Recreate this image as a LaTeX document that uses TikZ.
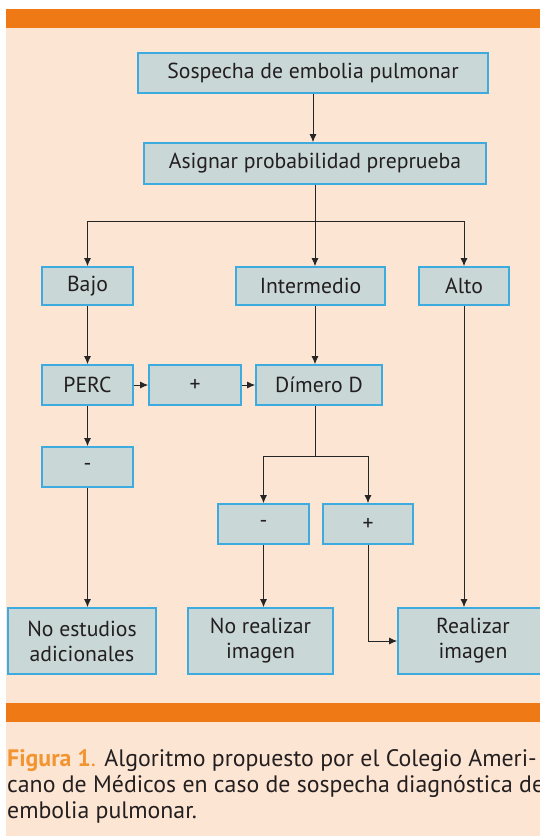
\documentclass[tikz,border=0pt]{standalone}
\usepackage{fontspec}
\setmainfont{PT Sans}
\usetikzlibrary{arrows.meta}
\definecolor{peach}{HTML}{FDE5D3}
\definecolor{barorange}{HTML}{EF7914}
\definecolor{boxfill}{HTML}{CAD7D7}
\definecolor{boxline}{HTML}{3DAAE0}
\definecolor{captxt}{HTML}{231F20}
\definecolor{figorange}{HTML}{F29430}
\begin{document}
\begin{tikzpicture}[x=1pt,y=-1pt,
  box/.style={draw=boxline, line width=1.6pt, fill=boxfill, inner sep=0pt,
    font=\fontsize{21.7}{25}\selectfont, text=captxt, align=center},
  conn/.style={line width=1pt, draw=black!85, -{Latex[length=8pt,width=7pt]}},
  plain/.style={line width=1pt, draw=black!85},
  captext/.style={anchor=base west, inner sep=0pt, text=captxt, font=\fontsize{23.8}{26}\selectfont}]
\useasboundingbox (0,0) rectangle (540,836);
\clip (0,0) rectangle (540,836);
\fill[white] (0,0) rectangle (540,836);
\fill[peach] (6,9) rectangle (540,836);
\fill[barorange] (6,9) rectangle (540,28);
\fill[barorange] (6,703) rectangle (540,722);

\node[box, minimum width=350pt, minimum height=40pt] (s1) at (313,73) {Sospecha de embolia pulmonar};
\node[box, minimum width=342pt, minimum height=41pt] (s2) at (315,163.5) {Asignar probabilidad preprueba};
\node[box, minimum width=91pt, minimum height=38pt] (bajo) at (87.5,286) {Bajo};
\node[box, minimum width=149pt, minimum height=38pt] (inter) at (310.5,286) {Intermedio};
\node[box, minimum width=90pt, minimum height=38pt] (alto) at (464,286) {Alto};
\node[box, minimum width=91pt, minimum height=40pt] (perc) at (87.5,385) {PERC};
\node[box, minimum width=92pt, minimum height=40pt] (plus1) at (195,385) {+};
\node[box, minimum width=126pt, minimum height=40pt] (dimero) at (319,385) {Dímero D};
\node[box, minimum width=91pt, minimum height=40pt] (minus1) at (87.5,467) {-};
\node[box, minimum width=91pt, minimum height=40pt] (minus2) at (263.5,524) {-};
\node[box, minimum width=90pt, minimum height=40pt] (plus2) at (368,524) {+};
\node[box, minimum width=148pt, minimum height=66pt] (noest) at (82,641) {No estudios\\adicionales};
\node[box, minimum width=145pt, minimum height=66pt] (noreal) at (260.5,641) {No realizar\\imagen};
\node[box, minimum width=150pt, minimum height=66pt] (real) at (473,641) {Realizar\\imagen};

\coordinate (j1) at (315,221);
\coordinate (j2) at (315,456);
\draw[conn] (s1.south) -- (s1.south |- s2.north);
\draw[plain] (j1 |- s2.south) -- (j1);
\draw[conn] (j1) -| (bajo.north);
\draw[conn] (j1) -| (alto.north);
\draw[conn] (j1) -- (j1 |- inter.north);
\draw[conn] (bajo) -- (perc);
\draw[conn] (j1 |- inter.south) -- (j1 |- dimero.north);
\draw[conn] (perc) -- (plus1);
\draw[conn] (plus1) -- (dimero);
\draw[conn] (perc) -- (minus1);
\draw[plain] (j1 |- dimero.south) -- (j2);
\draw[conn] (j2) -| (minus2.north);
\draw[conn] (j2) -| (plus2.north);
\draw[conn] (minus1) -- (minus1 |- noest.north);
\draw[conn] (minus2) -- (minus2 |- noreal.north);
\draw[conn] (plus2.south) |- (real.west);
\draw[conn] (alto.south) -- (alto.south |- real.north);

\node[captext] (cap1) at (7,766) {{\bfseries\color{figorange}Figura 1}{\color{figorange}.} Algoritmo propuesto por el Colegio Ameri-};
\node[captext] (cap2) at (7,792) {cano de Médicos en caso de sospecha diagnóstica de};
\node[captext] (cap3) at (7,818) {embolia pulmonar.};
\end{tikzpicture}
\end{document}
